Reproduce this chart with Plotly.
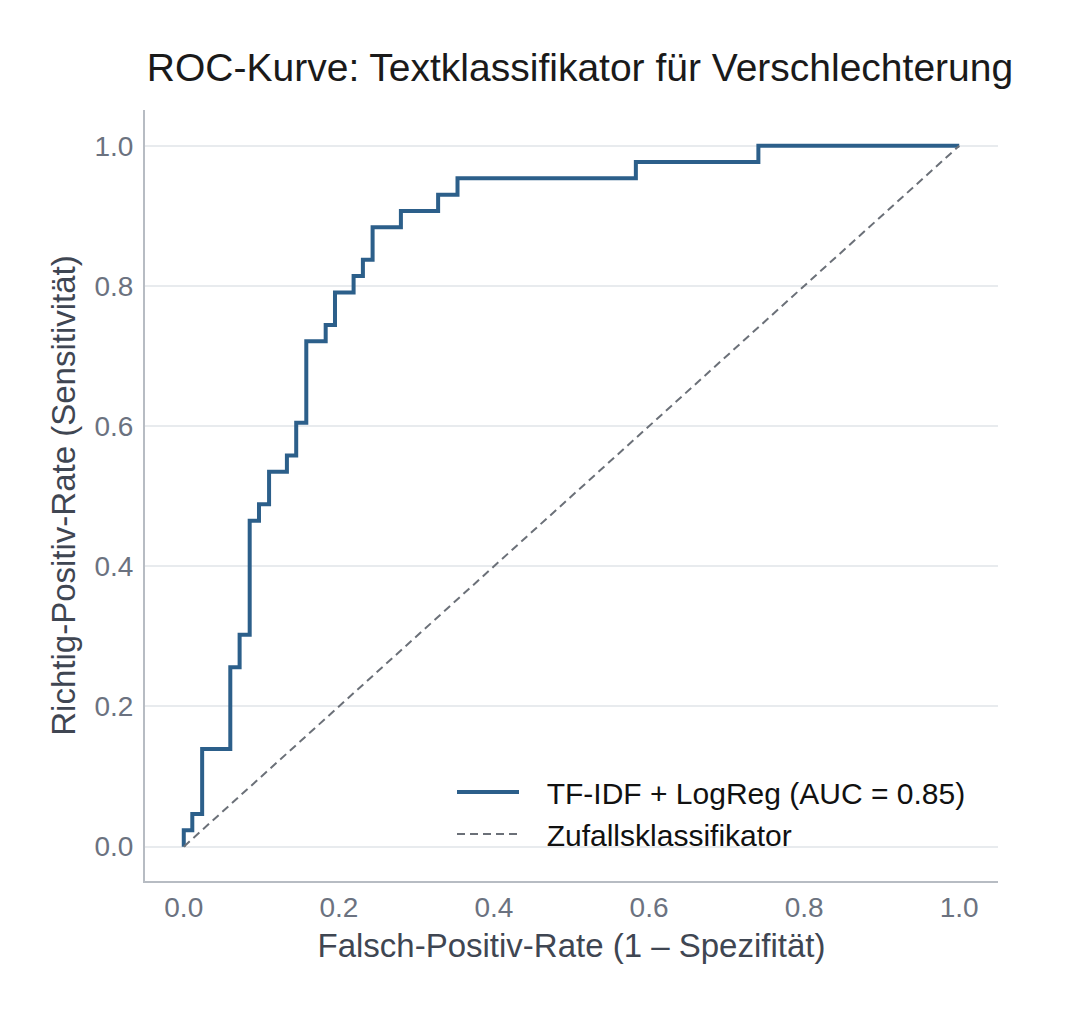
import plotly.graph_objects as go

# ROC curve step vertices (FPR, TPR)
fpr = [0.0, 0.0, 0.011, 0.011, 0.0237, 0.0237, 0.060, 0.060, 0.072, 0.072, 0.085, 0.085,
       0.097, 0.097, 0.110, 0.110, 0.133, 0.133, 0.145, 0.145, 0.158, 0.158, 0.183, 0.183,
       0.195, 0.195, 0.219, 0.219, 0.231, 0.231, 0.2435, 0.2435, 0.280, 0.280, 0.328, 0.328,
       0.353, 0.353, 0.583, 0.583, 0.741, 0.741, 1.0]
tpr = [0.0, 0.0233, 0.0233, 0.0465, 0.0465, 0.1395, 0.1395, 0.2558, 0.2558, 0.3023, 0.3023, 0.4651,
       0.4651, 0.4884, 0.4884, 0.5349, 0.5349, 0.5581, 0.5581, 0.6047, 0.6047, 0.7209, 0.7209, 0.7442,
       0.7442, 0.7907, 0.7907, 0.8140, 0.8140, 0.8372, 0.8372, 0.8837, 0.8837, 0.9070, 0.9070, 0.9302,
       0.9302, 0.9535, 0.9535, 0.9767, 0.9767, 1.0, 1.0]
diag_x = [0.0, 1.0]
diag_y = [0.0, 1.0]
tick_vals = [0.0, 0.2, 0.4, 0.6, 0.8, 1.0]
tick_text = ["0.0", "0.2", "0.4", "0.6", "0.8", "1.0"]

FONT = "Liberation Sans, Arial, Helvetica, sans-serif"
PAD = "\u00a0\u00a0\u2009"

fig = go.Figure()
fig.add_trace(go.Scatter(x=fpr, y=tpr, mode="lines", name=PAD + "TF-IDF + LogReg (AUC = 0.85)",
                         line=dict(color="#2c5f8a", width=4)))
fig.add_trace(go.Scatter(x=diag_x, y=diag_y, mode="lines", name=PAD + "Zufallsklassifikator",
                         line=dict(color="#6b7078", width=2, dash="8px,5px")))

fig.update_layout(
    width=1065, height=1014,
    margin=dict(l=145, r=67, t=110, b=133),
    paper_bgcolor="white", plot_bgcolor="white",
    font=dict(family=FONT),
    title=dict(text="ROC-Kurve: Textklassifikator für Verschlechterung",
               x=580/1065, xanchor="center", xref="container",
               y=1 - 67/1014, yanchor="middle", yref="container",
               font=dict(size=39, color="#1a1a1a", family=FONT)),
    xaxis=dict(range=[-0.05, 1.05], tickvals=tick_vals, ticktext=tick_text,
               showgrid=False, zeroline=False, showline=True, linecolor="#b7bcc3", linewidth=2,
               ticks="", ticklabelstandoff=0,
               tickfont=dict(size=28, color="#6b7280"),
               title=dict(text="Falsch-Positiv-Rate (1 – Spezifität)", standoff=12,
                          font=dict(size=33, color="#3f4652"))),
    yaxis=dict(range=[-0.049, 1.051], tickvals=tick_vals, ticktext=tick_text,
               showgrid=True, gridcolor="#e8ebee", gridwidth=1.5, zeroline=False,
               showline=True, linecolor="#b7bcc3", linewidth=2,
               ticks="", ticklabelstandoff=4,
               tickfont=dict(size=28, color="#6b7280"),
               title=dict(text="Richtig-Positiv-Rate (Sensitivität)", standoff=9,
                          font=dict(size=33, color="#3f4652"))),
    legend=dict(x=(452-145)/853, xanchor="left", y=(881-860)/771, yanchor="bottom",
                bgcolor="rgba(0,0,0,0)", borderwidth=0,
                font=dict(size=30, color="#111111", family=FONT),
                itemwidth=62, tracegroupgap=0),
)

fig.write_html("out.html")
